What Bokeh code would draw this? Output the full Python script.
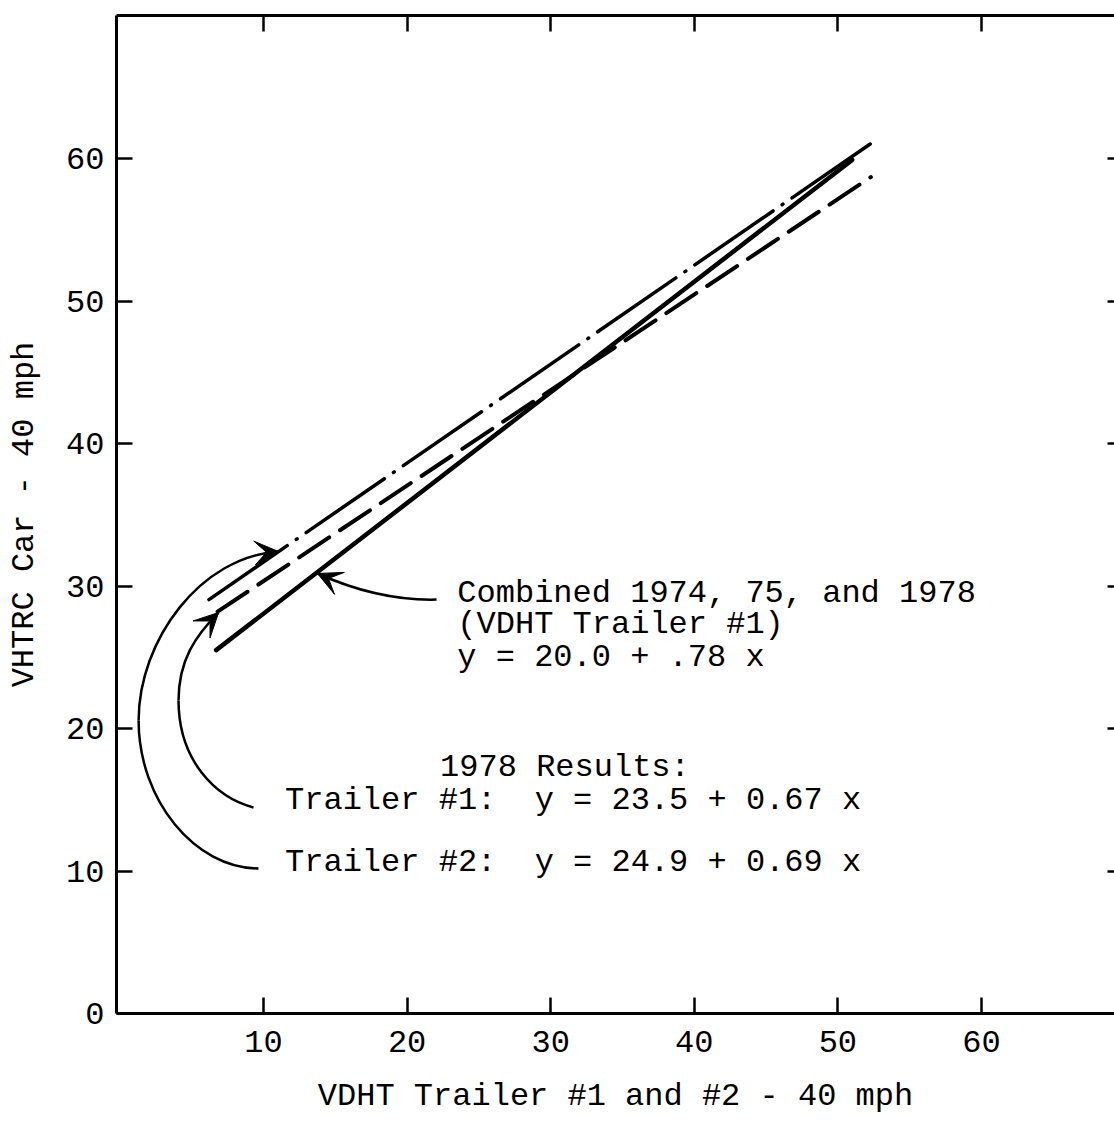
from bokeh.plotting import figure
from bokeh.models import Range1d, LinearAxis, FixedTicker, Arrow, VeeHead
from bokeh.embed import file_html
from bokeh.resources import INLINE
from bokeh.core.properties import value

FONT = "Liberation Mono"
FS = "32px"

# ---- axes / ticks ----
x_ticks = [10, 20, 30, 40, 50, 60]
y_ticks = [0, 10, 20, 30, 40, 50, 60]
x_label = "VDHT Trailer #1 and #2 - 40 mph"
y_label = "VHTRC Car - 40 mph"

# ---- fitted lines (end points) ----
combined_x = [6.7, 51.0]
combined_y = [25.5, 59.9]
trailer1_x = [6.8, 52.3]
trailer1_y = [28.2, 58.7]
trailer2_x = [6.2, 52.8]
trailer2_y = [29.05, 61.4]

# ---- annotation texts ----
note_x = [23.5, 23.5, 23.5, 22.3, 11.5, 11.5]
note_y = [29.47, 27.30, 24.98, 17.26, 14.95, 10.60]
note_text = [
    "Combined 1974, 75, and 1978",
    "(VDHT Trailer #1)",
    "y = 20.0 + .78 x",
    "1978 Results:",
    "Trailer #1:\u00a0 y = 23.5 + 0.67 x",
    "Trailer #2:\u00a0 y = 24.9 + 0.69 x",
]

# ---- curved pointer arrows (cubic bezier pieces, data units) ----
curve_x0 = [9.65, 1.30, 9.30, 4.08, 22.05]
curve_y0 = [10.18, 20.56, 14.46, 21.96, 29.05]
curve_cx0 = [5.26, 1.30, 6.66, 4.08, 19.19]
curve_cy0 = [10.18, 26.18, 15.16, 24.77, 28.98]
curve_cx1 = [1.30, 5.61, 4.08, 5.26, 16.41]
curve_cy1 = [14.95, 32.07, 17.75, 26.53, 29.68]
curve_x1 = [1.30, 11.04, 4.08, 6.87, 13.76]
curve_y1 = [20.56, 32.42, 21.96, 28.14, 30.88]
head_index = [1, 3, 4]  # pieces that end with an arrow head

p = figure(width=1114, height=1122, output_backend="svg", toolbar_location=None,
           x_range=Range1d(-0.24, 69.27), y_range=Range1d(0, 70.04),
           min_border_left=116, min_border_right=0, min_border_top=15, min_border_bottom=109,
           background_fill_color="white", border_fill_color="white")
p.grid.visible = False
p.outline_line_color = None

xa = p.xaxis[0]
xa.ticker = FixedTicker(ticks=x_ticks)
xa.axis_label = x_label
ya = p.yaxis[0]
ya.ticker = FixedTicker(ticks=y_ticks)
ya.axis_label = y_label

for ax in (xa, ya):
    ax.axis_line_width = 3
    ax.axis_line_color = "black"
    ax.major_tick_in = 16
    ax.major_tick_out = 0
    ax.major_tick_line_width = 2.5
    ax.major_tick_line_color = "black"
    ax.minor_tick_line_color = None
    ax.major_label_text_font = FONT
    ax.major_label_text_font_size = FS
    ax.major_label_text_color = "black"
    ax.axis_label_text_font = FONT
    ax.axis_label_text_font_size = FS
    ax.axis_label_text_font_style = "normal"
    ax.axis_label_text_color = "black"
xa.major_label_standoff = 17
xa.axis_label_standoff = 23
ya.major_label_standoff = 12
ya.axis_label_standoff = 20

top = LinearAxis(ticker=FixedTicker(ticks=x_ticks), major_tick_in=16, major_tick_out=0,
                 major_tick_line_width=2.5, axis_line_width=3, minor_tick_line_color=None,
                 major_label_text_font_size="0px", major_label_text_alpha=0,
                 major_label_text_color=None, major_label_standoff=0)
p.add_layout(top, "above")
right = LinearAxis(ticker=FixedTicker(ticks=y_ticks[1:]), major_tick_in=7, major_tick_out=0,
                   major_tick_line_width=2.5, axis_line_color=None, minor_tick_line_color=None,
                   major_label_text_font_size="0px", major_label_text_alpha=0,
                   major_label_text_color=None, major_label_standoff=0)
p.add_layout(right, "right")

# fitted lines
p.line(combined_x, combined_y, line_color="black", line_width=4.5, line_cap="round")
p.line(trailer1_x, trailer1_y, line_color="black", line_width=4, line_dash="36 13", line_cap="round")
p.line(trailer2_x, trailer2_y, line_color="black", line_width=3.5, line_dash="95 11 1 11", line_cap="round")

# pointer curves
p.bezier(x0=curve_x0, y0=curve_y0, x1=curve_x1, y1=curve_y1,
         cx0=curve_cx0, cy0=curve_cy0, cx1=curve_cx1, cy1=curve_cy1,
         line_color="black", line_width=2.5)
for i in head_index:
    tx, ty = curve_x1[i], curve_y1[i]
    sx = tx - 0.15 * (tx - curve_cx1[i])
    sy = ty - 0.15 * (ty - curve_cy1[i])
    p.add_layout(Arrow(end=VeeHead(size=24, fill_color="black", line_color="black", line_width=1),
                       x_start=sx, y_start=sy, x_end=tx, y_end=ty,
                       line_color="black", line_width=2.5))

# texts
p.text(x=note_x, y=note_y, text=note_text, text_font=value(FONT), text_font_size=FS,
       text_color="black", text_align="left", text_baseline="middle")

open("out.html", "w").write(file_html(p, INLINE))
